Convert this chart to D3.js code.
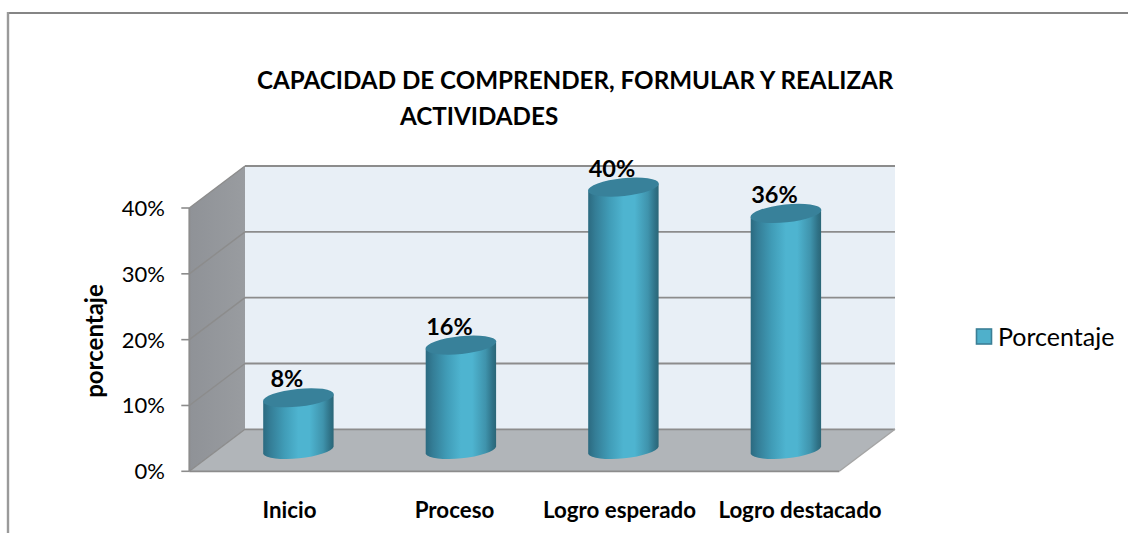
<!DOCTYPE html>
<html><head><meta charset="utf-8">
<script src="https://cdn.jsdelivr.net/npm/d3@7"></script>
<style>html,body{margin:0;padding:0;background:#fff}svg{display:block}text{font-family:Lato,"Open Sans",sans-serif;fill:#000}</style>
</head><body><div id="chart"></div>
<script>
const categories = ["Inicio","Proceso","Logro esperado","Logro destacado"];
const values = [8,16,40,36];
const valueLabels = ["8%","16%","40%","36%"];
const yTicks = [0,10,20,30,40];
const titleLines = ["CAPACIDAD DE COMPRENDER, FORMULAR Y REALIZAR","ACTIVIDADES"];
const yTitle = "porcentaje";
const seriesName = "Porcentaje";

const W=1128,H=533;
const depth={x:55.7,y:-42};
const x=d3.scaleBand().domain(categories).range([189.3,839.3]);
const y=d3.scaleLinear().domain([0,40]).range([471.3,208]);
const svg=d3.select("#chart").append("svg").attr("width",W).attr("height",H);
const defs=svg.append("defs");
const grad=defs.append("linearGradient").attr("id","cyl").attr("x1",0).attr("x2",1).attr("y1",0).attr("y2",0);
[[0,"#2b6a80"],[0.1,"#347d96"],[0.3,"#409cb7"],[0.5,"#4eb4d0"],[0.66,"#4eb4d0"],[0.85,"#3f93ac"],[0.95,"#2f7287"],[1,"#2b6677"]]
 .forEach(s=>grad.append("stop").attr("offset",s[0]).attr("stop-color",s[1]));
const wallG=defs.append("linearGradient").attr("id","wall").attr("x1",0).attr("x2",1).attr("y1",0).attr("y2",0);
wallG.append("stop").attr("offset",0).attr("stop-color","#8f9297");
wallG.append("stop").attr("offset",1).attr("stop-color","#999ca0");

// frame
const frame=svg.append("g");
frame.append("line").attr("x1",7).attr("x2",W).attr("y1",13).attr("y2",13).attr("stroke","#858585").attr("stroke-width",2);
frame.append("line").attr("x1",8).attr("x2",8).attr("y1",12).attr("y2",H).attr("stroke","#9a9a9a").attr("stroke-width",2.4);

const x0=x.range()[0],x1=x.range()[1];
const ln=(a,b,c,d)=>`M${a},${b}L${c},${d}`;
// back wall
svg.append("rect").attr("x",x0+depth.x).attr("y",y(40)+depth.y).attr("width",x1-x0).attr("height",y(0)-y(40))
  .attr("fill","#e8eff6");
// side wall
svg.append("path").attr("fill","url(#wall)")
  .attr("d",`M${x0},${y(0)}L${x0+depth.x},${y(0)+depth.y}L${x0+depth.x},${y(40)+depth.y}L${x0},${y(40)}Z`);
// floor
svg.append("path").attr("fill","#b1b5b9")
  .attr("d",`M${x0},${y(0)}L${x1},${y(0)}L${x1+depth.x},${y(0)+depth.y}L${x0+depth.x},${y(0)+depth.y}Z`);
// grid
const gridColor="#8c8c8c";
yTicks.forEach(t=>{
  const g=svg.append("g").attr("fill","none").attr("stroke",gridColor);
  g.append("path").attr("stroke-width",1.4).attr("d",ln(x0,y(t),x0+depth.x,y(t)+depth.y));
  g.append("path").attr("stroke-width",1.8).attr("d",ln(x0+depth.x,y(t)+depth.y,x1+depth.x,y(t)+depth.y));
  g.append("path").attr("stroke-width",1.6).attr("d",ln(x0-8,y(t),x0,y(t)));
  svg.append("text").attr("x",165).attr("y",y(t)+8).attr("text-anchor","end").attr("font-size",22).text(d3.format(".0%")(t/100));
});
svg.append("path").attr("fill","none").attr("stroke",gridColor).attr("stroke-width",1.8).attr("d",ln(x0,y(0),x1,y(0)));
svg.append("path").attr("fill","none").attr("stroke",gridColor).attr("stroke-width",1.8).attr("d",ln(x0,y(0),x0,y(40)));
svg.append("path").attr("fill","none").attr("stroke","#a4a4a4").attr("stroke-width",1.4).attr("d",ln(x1,y(0),x1+depth.x,y(0)+depth.y));

// cylinders: centred on the band shifted half the floor depth
const half=35.2, skew=3.7, rx=35.6, ry=8.9, rot=-6;
const baseShift=y(0)-450.4;
const catCentre=[289.5,454.5,619.5,800];
categories.forEach((c,i)=>{
  const v=values[i];
  const cx=x(c)+x.bandwidth()/2+depth.x/2;
  const top=y(v)-baseShift, base=y(0)-baseShift;
  const g=svg.append("g");
  g.append("path").attr("fill","url(#cyl)")
   .attr("d",`M${cx-half},${top+skew}L${cx-half},${base+skew}A${rx},${ry} ${rot} 0 0 ${cx+half},${base-skew}L${cx+half},${top-skew}A${rx},${ry} ${rot} 0 1 ${cx-half},${top+skew}Z`);
  g.append("ellipse").attr("cx",cx).attr("cy",top).attr("rx",rx).attr("ry",ry)
   .attr("transform",`rotate(${rot} ${cx} ${top})`).attr("fill","#38819a");
  svg.append("text").attr("x",cx-11.5).attr("y",top-10.5).attr("text-anchor","middle")
   .attr("font-size",23.5).attr("font-weight",700).text(valueLabels[i]);
  svg.append("text").attr("x",catCentre[i]).attr("y",517.5).attr("text-anchor","middle")
   .attr("font-size",22.3).attr("font-weight",700).text(c);
});

// title
svg.append("text").attr("x",257).attr("y",89).attr("font-size",24.2).attr("font-weight",700).text(titleLines[0]);
svg.append("text").attr("x",400).attr("y",125).attr("font-size",24.2).attr("font-weight",700).text(titleLines[1]);
// y title
svg.append("text").attr("transform","translate(103,341) rotate(-90)").attr("text-anchor","middle")
  .attr("font-size",24).attr("font-weight",700).text(yTitle);
// legend
svg.append("rect").attr("x",976.5).attr("y",329).attr("width",15).attr("height",15)
  .attr("fill","#4fb0cb").attr("stroke","#3b7f96").attr("stroke-width",1.6);
svg.append("text").attr("x",998).attr("y",346).attr("font-size",25).text(seriesName);
</script></body></html>
